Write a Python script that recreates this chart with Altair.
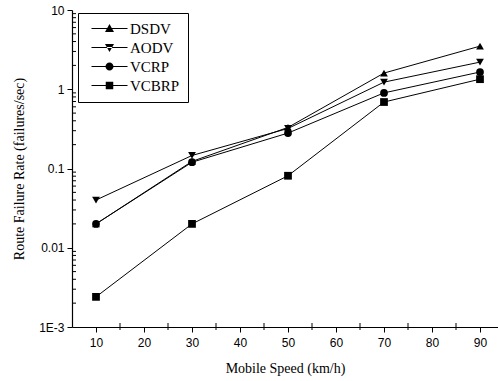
import altair as alt
import pandas as pd

speeds = [10, 30, 50, 70, 90]
series = ["DSDV", "AODV", "VCRP", "VCBRP"]
dsdv = [0.02, 0.123, 0.33, 1.6, 3.5]
aodv = [0.04, 0.146, 0.32, 1.23, 2.2]
vcrp = [0.02, 0.12, 0.28, 0.9, 1.65]
vcbrp = [0.0024, 0.02, 0.081, 0.69, 1.34]

x_ticks = [10, 20, 30, 40, 50, 60, 70, 80, 90]
x_minor = [15, 25, 35, 45, 55, 65, 75, 85]
y_ticks = [0.001, 0.01, 0.1, 1, 10]
y_minor = [k * 10.0 ** e for e in [-3, -2, -1, 0] for k in range(2, 10)]

marker_shapes = ["triangle-up", "triangle-down", "circle", "square"]
bar = "M-3.6,-0.11H3.6V0.11H-3.6Z"
legend_shapes = [
    bar + "M0,-0.9L0.9,0.7L-0.9,0.7Z",
    bar + "M0,0.9L0.9,-0.7L-0.9,-0.7Z",
    bar + "M0.8,0A0.8,0.8,0,1,1,-0.8,0A0.8,0.8,0,1,1,0.8,0Z",
    bar + "M-0.75,-0.75H0.75V0.75H-0.75Z",
]

rows = []
for name, vals in zip(series, [dsdv, aodv, vcrp, vcbrp]):
    for s, v in zip(speeds, vals):
        rows.append({"speed": s, "rate": v, "series": name})
df = pd.DataFrame(rows)
df_xminor = pd.DataFrame({"speed": x_minor})
df_yminor = pd.DataFrame({"rate": y_minor})

xscale = alt.Scale(domain=[5, 93.75], nice=False, zero=False)
yscale = alt.Scale(type="log", domain=[0.001, 10], nice=False)

base = alt.Chart(df)

lines = base.mark_line(color="black", strokeWidth=1).encode(
    x=alt.X("speed:Q", scale=xscale,
            axis=alt.Axis(values=x_ticks, title="Mobile Speed (km/h)", grid=False,
                          tickSize=5, labelPadding=5, titlePadding=13)),
    y=alt.Y("rate:Q", scale=yscale,
            axis=alt.Axis(values=y_ticks, title="Route Failure Rate (failures/sec)", grid=False,
                          tickSize=5, labelPadding=3, titlePadding=12,
                          labelExpr="datum.value == 0.001 ? '1E-3' : format(datum.value, '~g')")),
    detail="series:N",
)

points = base.mark_point(filled=True, color="black", opacity=1).encode(
    x=alt.X("speed:Q", scale=xscale),
    y=alt.Y("rate:Q", scale=yscale),
    shape=alt.Shape("series:N", scale=alt.Scale(domain=series, range=marker_shapes), legend=None),
    size=alt.value(60),
)

xminor = alt.Chart(df_xminor).mark_rule(color="black", strokeWidth=1).encode(
    x=alt.X("speed:Q", scale=xscale),
    y=alt.value(313),
    y2=alt.value(320),
)

yminor = alt.Chart(df_yminor).mark_rule(color="black", strokeWidth=1).encode(
    y=alt.Y("rate:Q", scale=yscale),
    x=alt.value(0),
    x2=alt.value(4),
)

legend_layer = base.transform_filter("false").mark_point(
    filled=True, color="black", opacity=1
).encode(
    x=alt.X("speed:Q", scale=xscale),
    y=alt.Y("rate:Q", scale=yscale),
    shape=alt.Shape("series:N", scale=alt.Scale(domain=series, range=legend_shapes),
                    legend=alt.Legend(title=None, orient="none", legendX=6, legendY=3,
                                      symbolSize=100, symbolOffset=16, labelOffset=13,
                                      symbolFillColor="black", rowPadding=3,
                                      labelFont="Liberation Serif", labelFontSize=15,
                                      labelColor="black",
                                      strokeColor="black", fillColor="white", padding=8)),
)

chart = alt.layer(lines, points, xminor, yminor, legend_layer).resolve_scale(
    shape="independent"
).properties(
    width=426, height=317,
    autosize=alt.AutoSizeParams(type="none"),
    padding={"left": 72, "top": 10, "right": 0, "bottom": 54},
).configure_view(stroke=None).configure_axis(
    labelFont="Liberation Sans", labelFontSize=12, labelColor="black",
    titleFont="Liberation Serif", titleFontSize=14, titleFontWeight="normal", titleColor="black",
    domainColor="black", tickColor="black", domainWidth=1.2,
)

chart.save("out.html", embed_options={"renderer": "svg", "actions": False})
